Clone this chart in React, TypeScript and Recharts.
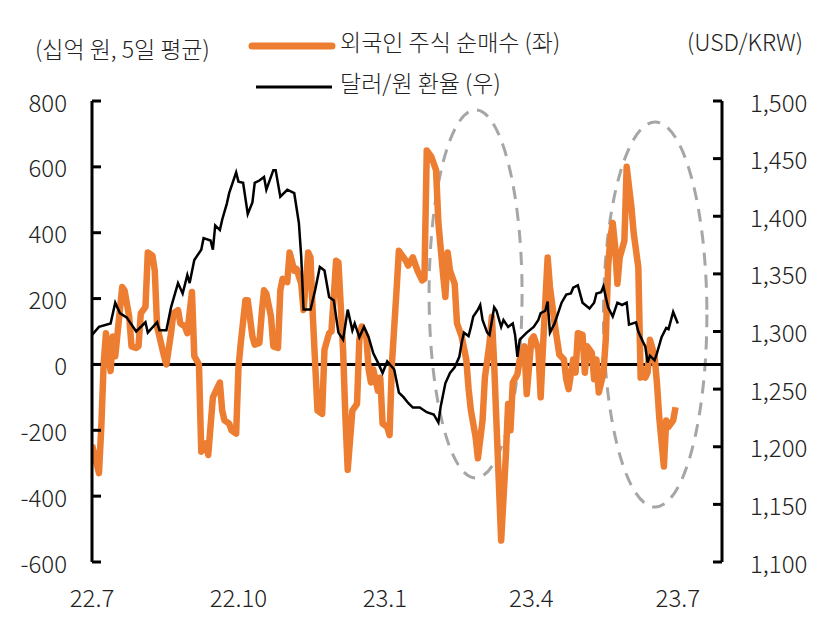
import { ComposedChart, Line, XAxis, YAxis, ReferenceLine, ReferenceArea } from "recharts"

const FONT = '"Noto Sans CJK KR", "Noto Sans", sans-serif'
const ORANGE = "#ED7D31"

// x position = trading-day index from 2022-07 start
const X_TICKS = [0, 63, 126, 189, 252]
const X_LABELS = ["22.7", "22.10", "23.1", "23.4", "23.7"]
const LEFT_TICKS = [-600, -400, -200, 0, 200, 400, 600, 800]
const RIGHT_TICKS = [1100, 1150, 1200, 1250, 1300, 1350, 1400, 1450, 1500]

// 외국인 주식 순매수 (십억 원, 5일 평균)
const flowDays = [
  0, 3, 4, 5, 6, 8, 9, 10, 11, 13, 14, 16, 17, 19, 20, 21, 23, 24, 26, 27,
  28, 31, 32, 34, 35, 37, 38, 40, 41, 43, 44, 46, 47, 49, 50, 52, 54, 55, 56, 57,
  59, 60, 62, 63, 64, 66, 67, 69, 70, 72, 73, 74, 75, 77, 78, 80, 81, 82, 84, 85,
  87, 88, 90, 91, 93, 94, 95, 97, 99, 100, 102, 103, 105, 106, 108, 109, 110, 112, 114, 115,
  116, 118, 119, 120, 121, 123, 124, 125, 127, 128, 129, 131, 132, 134, 135, 136, 138, 140, 142, 143,
  144, 146, 148, 149, 151, 152, 153, 154, 156, 157, 158, 159, 161, 162, 163, 165, 166, 168, 169, 171,
  172, 173, 174, 176, 178, 179, 180, 181, 183, 184, 186, 187, 189, 190, 192, 193, 194, 196, 197, 199,
  201, 203, 204, 205, 207, 208, 209, 211, 212, 213, 215, 216, 217, 218, 220, 221, 222, 223, 224, 225,
  226, 227, 229, 230, 232, 233, 235, 236, 237, 238, 239, 240, 242, 243, 244, 246, 247, 248, 250, 251,
]
const flowValues = [
  -245, -330, -190, 0, 95, -20, 85, 25, 95, 235, 225, 145, 55, 50, 55, 155, 175, 340, 330, 285,
  115, 25, 0, 95, 155, 165, 125, 115, 95, 220, 25, 0, -265, -240, -275, -100, -70, -55, -140, -170,
  -180, -200, -210, -10, 65, 195, 195, 85, 60, 65, 155, 225, 215, 145, 55, 50, 225, 260, 250, 340,
  285, 290, 245, 165, 340, 325, 145, -140, -150, 45, 95, 100, 315, 310, 45, -160, -320, -140, -120, 75,
  115, 85, -15, -55, -15, -80, -40, -180, -190, -215, 0, 225, 345, 325, 315, 300, 325, 285, 255, 260,
  650, 630, 590, 430, 275, 205, 340, 285, 245, 125, 105, 85, 15, -75, -140, -220, -285, -170, -40, 65,
  145, 0, -180, -535, -280, -120, -200, -55, -30, 15, 55, -90, 75, 85, 45, -100, 55, 325, 235, 125,
  30, 15, -45, -75, 15, -25, 95, 90, -25, 55, 35, -45, 15, -85, -25, 75, 295, 385, 430, 360,
  245, 325, 375, 600, 480, 400, 295, -40, -15, -40, -25, 75, 25, -55, -160, -310, -170, -190, -170, -130,
]

// 달러/원 환율
const fxDays = [
  0, 3, 8, 10, 12, 15, 19, 23, 24, 28, 29, 32, 34, 37, 39, 41, 42, 44, 47, 48,
  51, 52, 53, 55, 56, 58, 59, 62, 63, 65, 67, 69, 70, 72, 74, 75, 78, 79, 81, 84,
  87, 89, 90, 91, 94, 96, 98, 100, 102, 104, 106, 108, 110, 112, 113, 115, 117, 119, 121, 123,
  125, 127, 130, 132, 134, 136, 138, 141, 144, 147, 149, 150, 152, 154, 156, 158, 159, 160, 162, 163,
  164, 166, 167, 168, 170, 171, 173, 174, 176, 177, 179, 181, 182, 183, 184, 187, 190, 192, 193, 195,
  196, 197, 199, 202, 204, 206, 207, 209, 211, 214, 216, 217, 219, 220, 221, 222, 224, 226, 228, 230,
  231, 234, 235, 237, 238, 239, 240, 242, 243, 245, 247, 248, 250, 251, 252,
]
const fxRates = [
  1297, 1304, 1307, 1325, 1316, 1312, 1300, 1308, 1299, 1308, 1301, 1301, 1321, 1342, 1333, 1349, 1342, 1362, 1371, 1381,
  1379, 1371, 1392, 1388, 1397, 1411, 1420, 1438, 1430, 1429, 1402, 1412, 1429, 1431, 1434, 1423, 1440, 1440, 1417, 1423,
  1420, 1394, 1365, 1319, 1319, 1336, 1356, 1353, 1330, 1327, 1299, 1293, 1319, 1301, 1307, 1295, 1304, 1295, 1281, 1273,
  1264, 1274, 1267, 1247, 1243, 1238, 1234, 1234, 1230, 1228, 1221, 1235, 1255, 1264, 1269, 1278, 1290, 1299, 1296, 1304,
  1313, 1319, 1323, 1310, 1299, 1297, 1321, 1318, 1304, 1310, 1304, 1307, 1297, 1278, 1293, 1299, 1304, 1310, 1316, 1318,
  1326, 1299, 1307, 1325, 1332, 1333, 1338, 1340, 1325, 1320, 1325, 1333, 1334, 1339, 1330, 1321, 1313, 1325, 1323, 1325,
  1306, 1308, 1300, 1291, 1287, 1273, 1279, 1275, 1281, 1295, 1303, 1302, 1317, 1312, 1307,
]

// dashed ellipses (day range, left-axis range)
const HIGHLIGHTS = [
  { x1: 145, x2: 185, y1: -345, y2: 773 },
  { x1: 220, x2: 264.5, y1: -433, y2: 736 },
]

const flowData = flowDays.map((x, i) => ({ x, v: flowValues[i] }))
const fxData = fxDays.map((x, i) => ({ x, v: fxRates[i] }))

const LeftTick = (props: any) => {
  const { x, y, payload } = props
  return (
    <g>
      <line x1={x + 25} x2={x + 34} y1={y} y2={y} stroke="#000" strokeWidth={3} />
      <text x={x} y={y} textAnchor="end" dominantBaseline="central" fontSize={24} fontWeight={300} fontFamily={FONT} fill="#222">
        {payload.value}
      </text>
    </g>
  )
}

const RightTick = (props: any) => {
  const { x, y, payload } = props
  return (
    <g>
      <line x1={x - 28} x2={x - 37} y1={y} y2={y} stroke="#000" strokeWidth={3} />
      <text x={x} y={y} textAnchor="start" dominantBaseline="central" fontSize={24} fontWeight={300} fontFamily={FONT} fill="#222">
        {payload.value.toLocaleString("en-US")}
      </text>
    </g>
  )
}

const DashedEllipse = (p: any) => (
  <ellipse
    cx={p.x + p.width / 2}
    cy={p.y + p.height / 2}
    rx={p.width / 2}
    ry={p.height / 2}
    fill="none"
    stroke="#A6A6A6"
    strokeWidth={3}
    strokeDasharray="13 9"
  />
)

const textStyle = {
  position: "absolute" as const,
  fontFamily: FONT,
  fontWeight: 300,
  color: "#222",
  whiteSpace: "nowrap" as const,
  lineHeight: 1,
}

export default function App() {
  return (
    <div style={{ position: "absolute", left: 0, top: 0, width: 827, height: 625, background: "#fff" }}>
      <ComposedChart width={827} height={625} margin={{ top: 101, right: 0, bottom: 0, left: 0 }}>
        <XAxis
          type="number"
          dataKey="x"
          domain={[0, 271]}
          ticks={X_TICKS}
          tickFormatter={(v: number) => X_LABELS[X_TICKS.indexOf(v)]}
          axisLine={false}
          tickLine={false}
          tickSize={0}
          tickMargin={28}
          height={63}
          tick={{ fontSize: 24, fontWeight: 300, fontFamily: FONT, fill: "#222" }}
          allowDataOverflow
        />
        <YAxis
          yAxisId="left"
          domain={[-600, 800]}
          ticks={LEFT_TICKS}
          width={92}
          tickSize={0}
          tickMargin={25}
          tickLine={false}
          axisLine={{ stroke: "#000", strokeWidth: 3 }}
          tick={<LeftTick />}
          allowDataOverflow
        />
        <YAxis
          yAxisId="right"
          orientation="right"
          domain={[1100, 1500]}
          ticks={RIGHT_TICKS}
          width={105}
          tickSize={0}
          tickMargin={28}
          tickLine={false}
          axisLine={{ stroke: "#000", strokeWidth: 3 }}
          tick={<RightTick />}
          allowDataOverflow
        />
        <ReferenceLine yAxisId="left" y={0} stroke="#000" strokeWidth={3} />
        <Line
          yAxisId="left"
          data={flowData}
          dataKey="v"
          type="linear"
          stroke={ORANGE}
          strokeWidth={6.5}
          strokeLinejoin="round"
          dot={false}
          isAnimationActive={false}
        />
        <Line
          yAxisId="right"
          data={fxData}
          dataKey="v"
          type="linear"
          stroke="#000"
          strokeWidth={2.5}
          dot={false}
          isAnimationActive={false}
        />
        {HIGHLIGHTS.map((h, i) => (
          <ReferenceArea key={i} yAxisId="left" x1={h.x1} x2={h.x2} y1={h.y1} y2={h.y2} shape={<DashedEllipse />} />
        ))}
      </ComposedChart>

      <div style={{ ...textStyle, left: 35, top: 37, fontSize: 23 }}>(십억 원, 5일 평균)</div>
      <div style={{ ...textStyle, left: 687, top: 30, fontSize: 23 }}>(USD/KRW)</div>

      <svg style={{ position: "absolute", left: 0, top: 0 }} width={827} height={110}>
        <line x1={252} x2={332} y1={46} y2={46} stroke={ORANGE} strokeWidth={7} strokeLinecap="round" />
        <line x1={256} x2={332} y1={87} y2={87} stroke="#000" strokeWidth={3} />
      </svg>
      <div style={{ ...textStyle, left: 340, top: 30, fontSize: 23 }}>외국인 주식 순매수 (좌)</div>
      <div style={{ ...textStyle, left: 340, top: 71, fontSize: 23 }}>달러/원 환율 (우)</div>
    </div>
  )
}
